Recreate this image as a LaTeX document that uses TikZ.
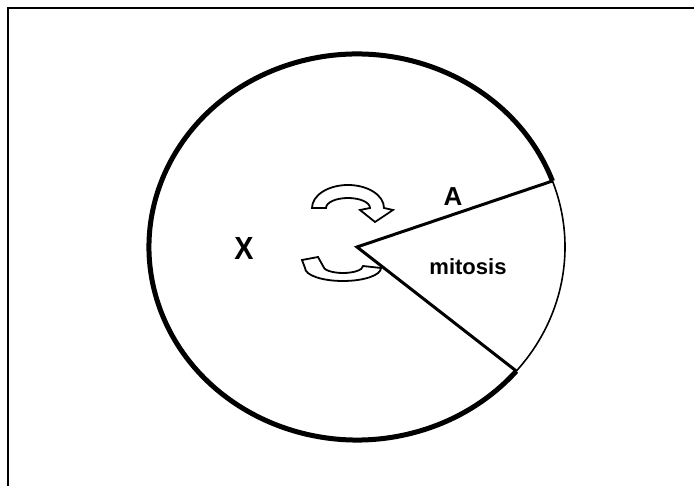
\documentclass[tikz,border=0pt]{standalone}
\usepackage{fontspec}
\setmainfont{Liberation Sans}
\begin{document}
\begin{tikzpicture}[x=0.5pt, y=0.5pt,
  rim/.style={line width=2.5pt},
  phase/.style={line width=1.5pt},
  turn/.style={draw, line width=0.9pt, fill=white},
  lbl/.style={inner sep=0pt, font=\fontsize{11}{13}\selectfont\bfseries}]
\useasboundingbox (0,0) rectangle (694,486);
\draw[line width=0.6pt] (8,0) -- (8,478) -- (694,478);
\coordinate (ctr) at (357,239);
\path (ctr) ++(20:208 and 193) coordinate (endA);
\path (ctr) ++(-40:208 and 193) coordinate (endB);
% cell cycle
\draw[rim] (endA) arc[start angle=20, end angle=320, x radius=208, y radius=193];
\draw[line width=0.8pt] (endB) arc[start angle=-40, end angle=20, x radius=208, y radius=193];
% turning arrows
\draw[turn] (312,278) arc[start angle=180, end angle=0, x radius=36, y radius=23]
  -- (393,276) -- (375,264) -- (360,276) -- (370,278)
  arc[start angle=0, end angle=180, x radius=22, y radius=10] -- cycle;
\draw[turn] (381,218) arc[start angle=0, end angle=-180, x radius=38, y radius=13]
  -- (302,226) -- (318,229) -- (323,220)
  arc[start angle=180, end angle=360, x radius=20, y radius=7] -- cycle;
\draw[phase] (endA) -- (ctr) -- (endB);
\node[lbl, font=\fontsize{13}{15}\selectfont\bfseries] (alab) at (453,289) {A};
\node[lbl, font=\fontsize{16}{18}\selectfont\bfseries] (xlab) at (244,238) {\scalebox{0.9}[1]{X}};
\node[lbl] (mitlab) at (468,219) {mitosis};
\end{tikzpicture}
\end{document}
